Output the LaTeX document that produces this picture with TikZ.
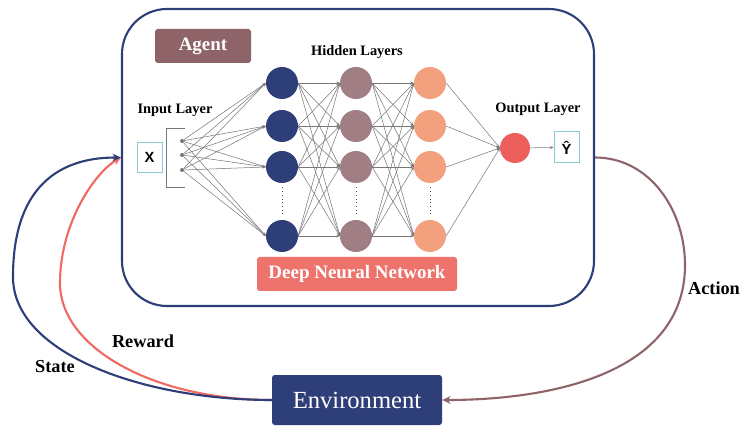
\documentclass[tikz,border=0pt]{standalone}
\usepackage{fontspec}
\setmainfont{Liberation Serif}
\setsansfont{Liberation Sans}
\usetikzlibrary{arrows.meta}

\definecolor{navy}{RGB}{46,62,120}
\definecolor{mauve}{RGB}{160,126,132}
\definecolor{agentbrown}{RGB}{143,100,104}
\definecolor{peach}{RGB}{242,160,126}
\definecolor{outred}{RGB}{236,95,92}
\definecolor{dnnred}{RGB}{238,115,108}
\definecolor{rewardred}{RGB}{238,106,98}
\definecolor{boxcyan}{RGB}{138,203,211}
\definecolor{linkgray}{RGB}{120,120,120}

\tikzset{
  neuron/.style={circle, minimum size=1.6cm, inner sep=0pt},
  conn/.style={draw=linkgray, line width=0.75pt, -{Stealth[length=5pt,width=4pt]}},
  layerlbl/.style={font=\fontsize{20.5}{22}\selectfont\bfseries},
  looplbl/.style={font=\fontsize{26}{28}\selectfont\bfseries},
  tagbox/.style={rounded corners=4pt, text=white, inner sep=0pt},
  valbox/.style={draw=boxcyan, line width=1.2pt, minimum width=1.25cm, minimum height=1.5cm,
    font=\fontsize{21}{23}\selectfont\sffamily\bfseries},
  bigarrow/.style={line width=3pt, -{Stealth[length=12pt,width=11pt]}}
}

\begin{document}
\begin{tikzpicture}
\useasboundingbox (0,0) rectangle (37.3,21.3);

% agent frame
\node[draw=navy, line width=3pt, rounded corners=2.25cm, minimum width=23.6cm, minimum height=14.85cm] (agent) at (17.9,13.425) {};
\node[tagbox, fill=agentbrown, minimum width=4.8cm, minimum height=1.7cm, font=\fontsize{27}{29}\selectfont\bfseries] (agentlbl) at (10.15,19.0) {Agent};

% layer titles
\node[layerlbl] (hidden) at (17.85,18.7) {Hidden Layers};
\node[layerlbl] (inlbl) at (8.75,15.8) {Input Layer};
\node[layerlbl] (outlbl) at (26.9,15.85) {Output Layer};

% input
\node[valbox] (xin) at (7.475,13.45) {X};
\draw[linkgray, line width=0.8pt] (9.25,14.9) -| (8.3,11.95) -- (9.25,11.95);
\node[circle, fill=linkgray, minimum size=0.2cm, inner sep=0pt] (in1) at (9.1,14.25) {};
\node[circle, fill=linkgray, minimum size=0.2cm, inner sep=0pt] (in2) at (9.1,13.55) {};
\node[circle, fill=linkgray, minimum size=0.2cm, inner sep=0pt] (in3) at (9.1,12.8) {};

% hidden layers
\node[neuron, fill=navy] (a1) at (14.1,17.15) {};
\node[neuron, fill=navy] (a2) at (14.1,15.0) {};
\node[neuron, fill=navy] (a3) at (14.1,12.95) {};
\node[neuron, fill=navy] (a4) at (14.1,9.5) {};
\node[neuron, fill=mauve] (b1) at (17.8,17.15) {};
\node[neuron, fill=mauve] (b2) at (17.8,15.0) {};
\node[neuron, fill=mauve] (b3) at (17.8,12.95) {};
\node[neuron, fill=mauve] (b4) at (17.8,9.5) {};
\node[neuron, fill=peach] (c1) at (21.5,17.15) {};
\node[neuron, fill=peach] (c2) at (21.5,15.0) {};
\node[neuron, fill=peach] (c3) at (21.5,12.95) {};
\node[neuron, fill=peach] (c4) at (21.5,9.5) {};
\draw[linkgray!70!black, line width=1.3pt, dash pattern=on 1.3pt off 4pt] ([yshift=-6pt]a3.south) -- ([yshift=6pt]a4.north);
\draw[linkgray!70!black, line width=1.3pt, dash pattern=on 1.3pt off 4pt] ([yshift=-6pt]b3.south) -- ([yshift=6pt]b4.north);
\draw[linkgray!70!black, line width=1.3pt, dash pattern=on 1.3pt off 4pt] ([yshift=-6pt]c3.south) -- ([yshift=6pt]c4.north);

% output
\node[circle, fill=outred, minimum size=1.5cm, inner sep=0pt] (out) at (25.75,13.9) {};
\node[valbox, minimum height=1.55cm] (yhat) at (28.33,13.93) {Ŷ};

% links
\foreach \i in {1,2,3}{\foreach \j in {1,...,4}{\draw[conn] (in\i) -- (a\j.west);}}
\foreach \i in {1,...,4}{\foreach \j in {1,...,4}{
  \draw[conn] (a\i.east) -- (b\j.west);
  \draw[conn] (b\i.east) -- (c\j.west);}}
\foreach \i in {1,...,4}{\draw[conn] (c\i.east) -- (out.west);}
\draw[conn] (out) -- (yhat);

\node[tagbox, fill=dnnred, minimum width=10cm, minimum height=1.7cm, font=\fontsize{27}{29}\selectfont\bfseries] (dnn) at (17.85,7.6) {Deep Neural Network};

% environment loop
\node[tagbox, fill=navy, minimum width=8.5cm, minimum height=2.5cm, font=\fontsize{35}{37}\selectfont] (env) at (17.85,1.3) {Environment};
\coordinate (stateturn) at (0.65,7.45);
\coordinate (rewardturn) at (3.0,7.15);
\coordinate (actionturn) at (34.25,8.05);
\draw[bigarrow, rewardred] (env.west) to[out=180,in=-90,out distance=5.8cm,in distance=3.3cm] (rewardturn)
  to[out=90,in=210,out distance=3cm,in distance=1.5cm] (agent.west);
\draw[bigarrow, navy] (env.west) to[out=180,in=-90,out distance=6.5cm,in distance=3.8cm] (stateturn)
  to[out=90,in=180,out distance=4.2cm,in distance=3.4cm] (agent.west);
\draw[bigarrow, agentbrown] (agent.east) to[out=0,in=90] (actionturn) to[out=-90,in=0] (env.east);
\node[looplbl] (state) at (2.75,2.95) {State};
\node[looplbl] (reward) at (7.15,4.25) {Reward};
\node[looplbl] (action) at (35.7,6.9) {Action};
\end{tikzpicture}
\end{document}
